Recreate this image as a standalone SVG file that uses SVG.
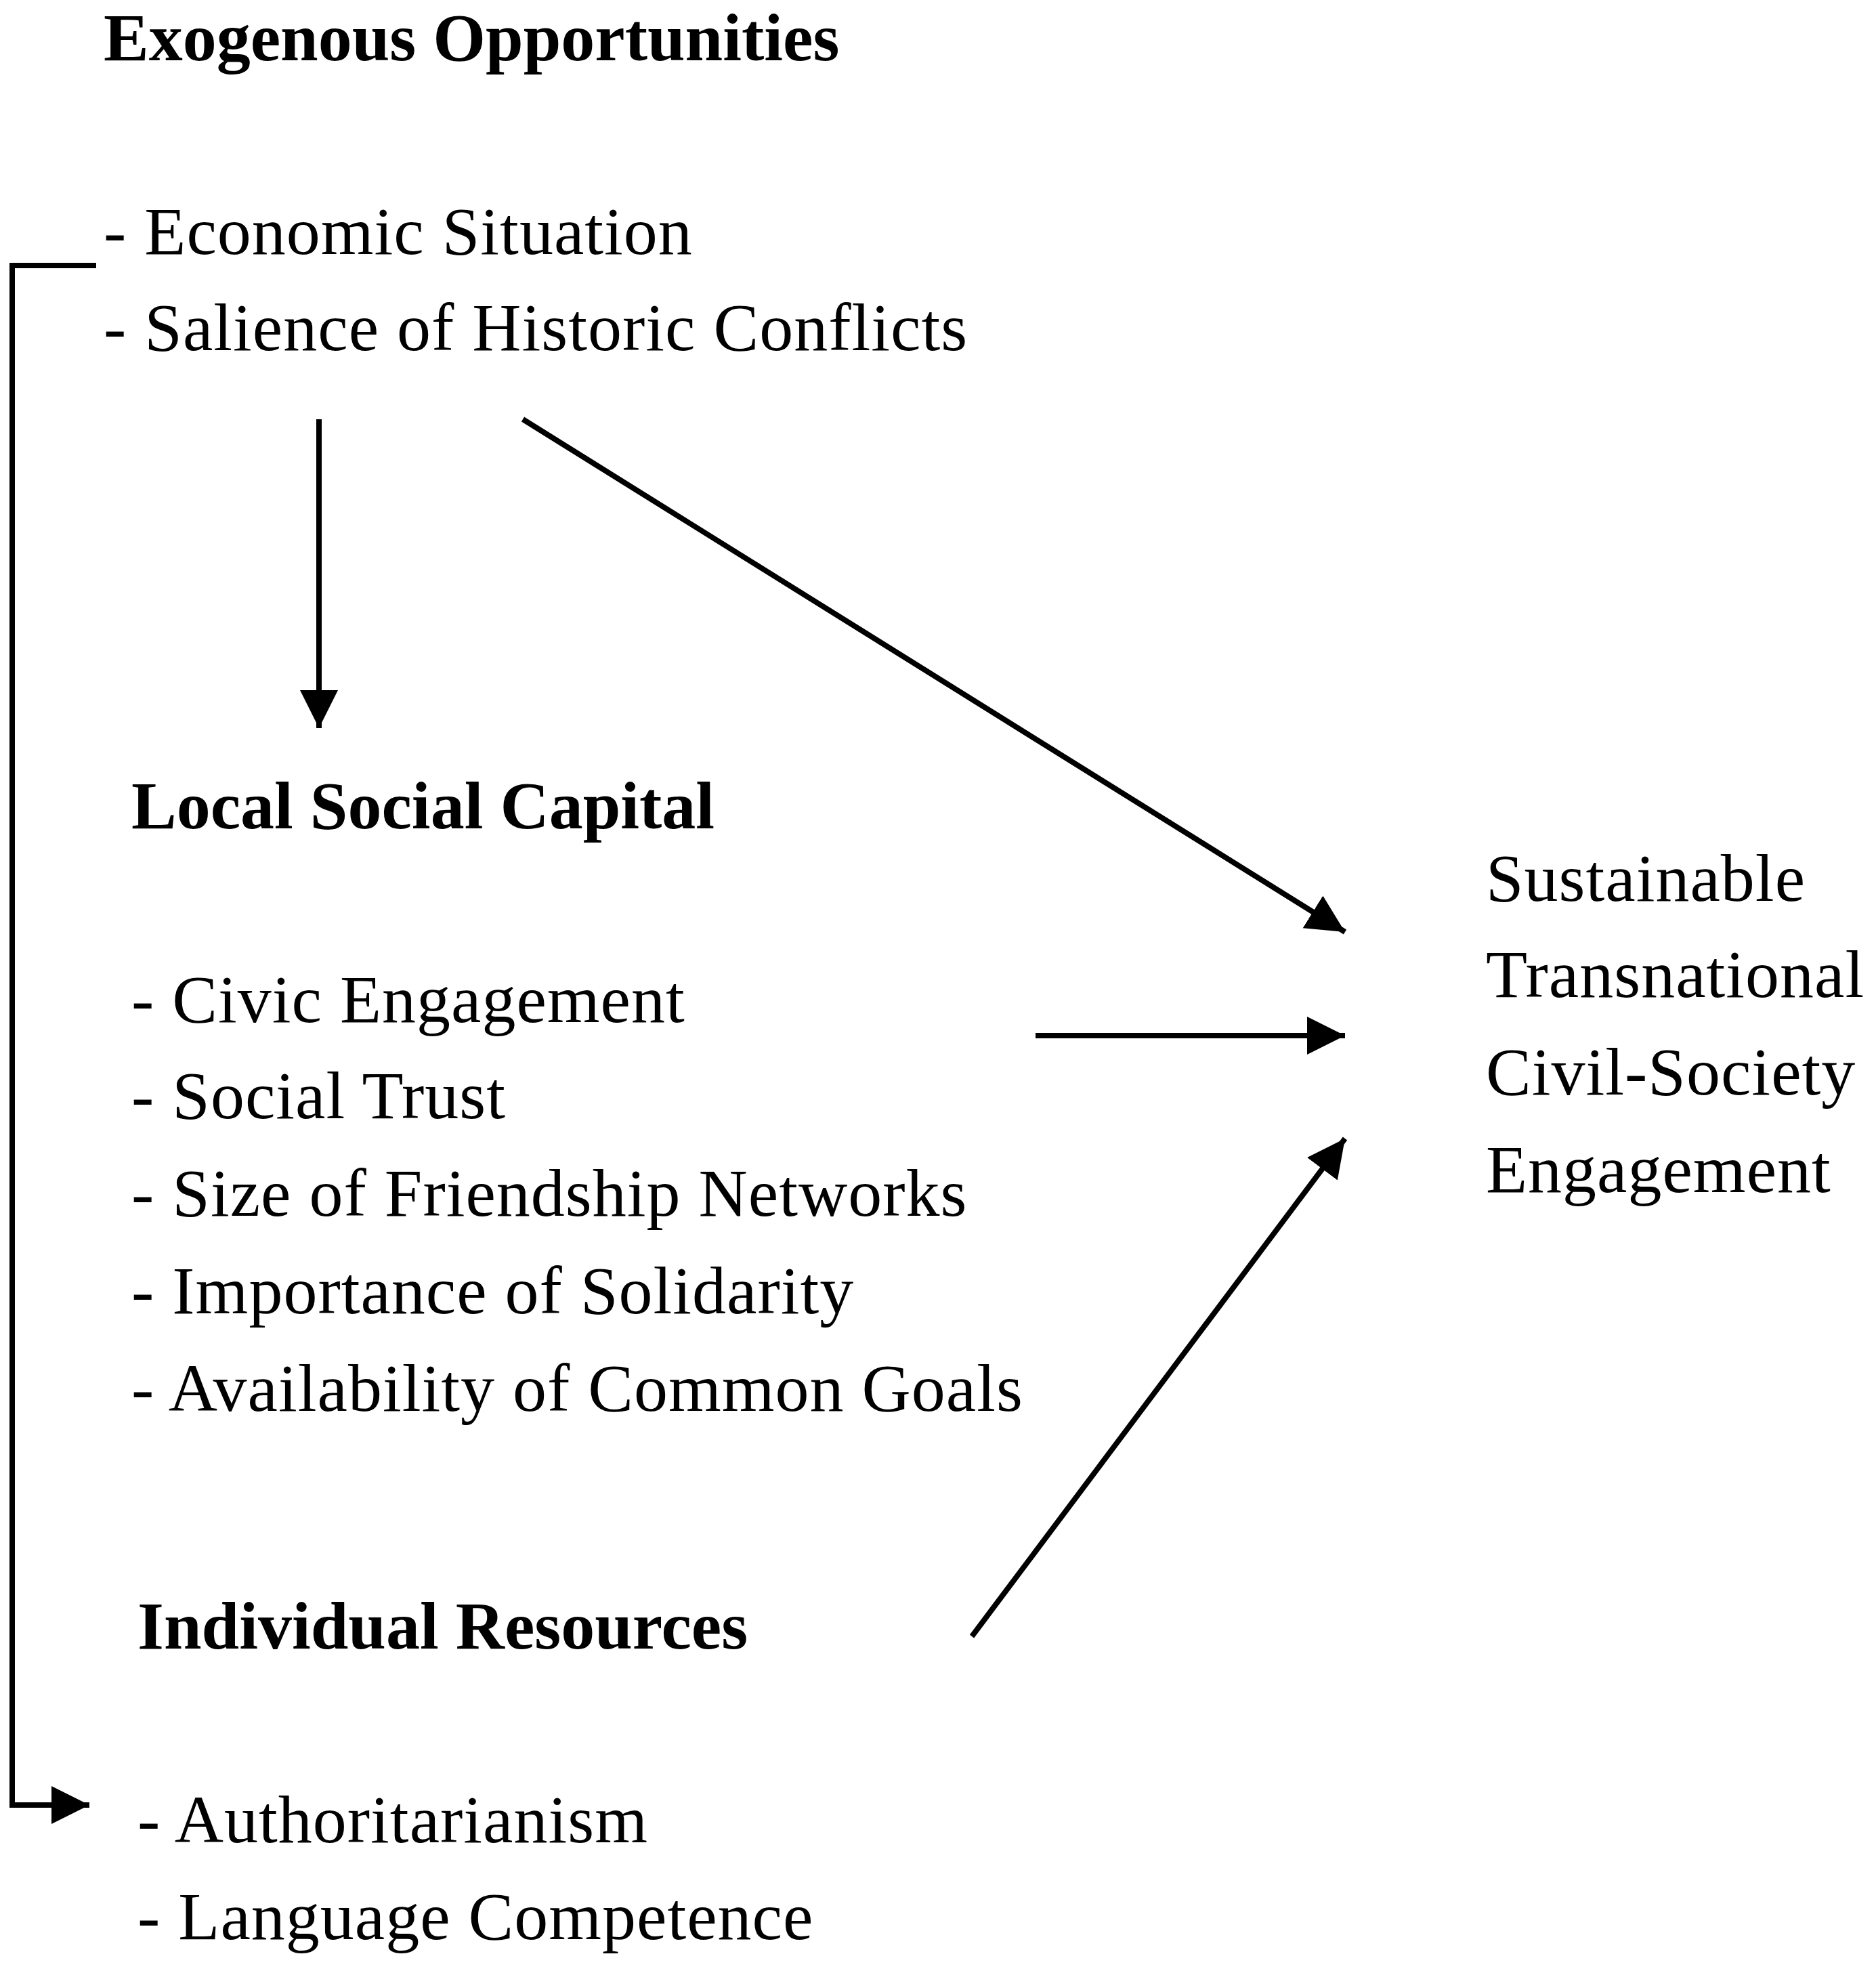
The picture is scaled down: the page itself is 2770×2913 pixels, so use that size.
<svg xmlns="http://www.w3.org/2000/svg" width="2770" height="2913" viewBox="0 0 2770 2913">
<style>
text{font-family:"Liberation Serif","Times New Roman",serif;fill:#000;font-size:100px;letter-spacing:1px}
.h{font-weight:bold;font-size:100px;letter-spacing:0}
.c{stroke:#000;stroke-width:8;fill:none}
</style>
<defs><marker id="a" markerWidth="8" markerHeight="8" refX="7" refY="4" orient="auto" markerUnits="strokeWidth"><path d="M0,0.5 L7,4 L0,7.5 Z" fill="#000"/></marker></defs>
<rect width="2770" height="2913" fill="#fff"/>
<g id="exogenous">
<text class="h" x="153" y="89">Exogenous Opportunities</text>
<text x="153" y="375">- Economic Situation</text>
<text x="153" y="517">- Salience of Historic Conflicts</text>
</g>
<g id="local">
<text class="h" x="194" y="1223">Local Social Capital</text>
<text x="194" y="1509">- Civic Engagement</text>
<text x="194" y="1651">- Social Trust</text>
<text x="194" y="1795">- Size of Friendship Networks</text>
<text x="194" y="1939">- Importance of Solidarity</text>
<text x="194" y="2083">- Availability of Common Goals</text>
</g>
<g id="individual">
<text class="h" x="203" y="2434">Individual Resources</text>
<text x="203" y="2720">- Authoritarianism</text>
<text x="203" y="2863">- Language Competence</text>
</g>
<g id="outcome">
<text x="2194" y="1330">Sustainable</text>
<text x="2194" y="1472">Transnational</text>
<text x="2194" y="1616">Civil-Society</text>
<text x="2194" y="1760">Engagement</text>
</g>
<g id="connectors">
<polyline class="c" points="142,392 18,392 18,2665 132,2665" marker-end="url(#a)"/>
<line class="c" x1="471" y1="619" x2="471" y2="1075" marker-end="url(#a)"/>
<line class="c" x1="772" y1="619" x2="1986" y2="1376" marker-end="url(#a)"/>
<line class="c" x1="1529" y1="1529" x2="1986" y2="1529" marker-end="url(#a)"/>
<line class="c" x1="1435" y1="2416" x2="1986" y2="1681" marker-end="url(#a)"/>
</g>
</svg>
